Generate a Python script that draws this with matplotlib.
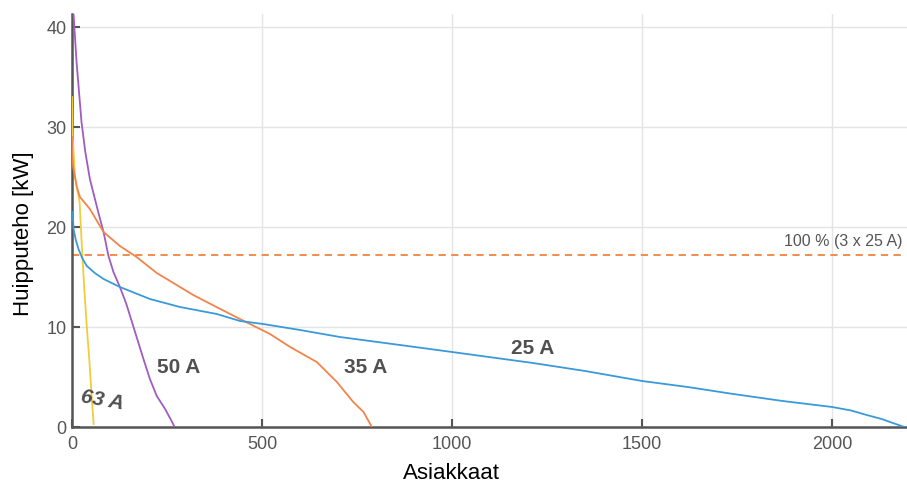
import matplotlib
matplotlib.use("Agg")
import matplotlib.pyplot as plt

plt.rcParams['font.family'] = ['Liberation Sans', 'DejaVu Sans']

# 25 A
x25 = [0, 2, 4, 10, 17, 28, 39, 60, 83, 126, 205, 284, 381, 442, 503, 600, 705, 863, 1000, 1213, 1350, 1500, 1620, 1740, 1870, 2000, 2050, 2091, 2130, 2160, 2190]
y25 = [21.5, 21.5, 19.8, 18.7, 17.8, 16.8, 16.1, 15.4, 14.8, 14.0, 12.8, 12.0, 11.3, 10.6, 10.3, 9.7, 9.0, 8.2, 7.5, 6.4, 5.6, 4.6, 4.0, 3.3, 2.6, 2.0, 1.65, 1.2, 0.8, 0.4, 0.0]
# 35 A
x35 = [0, 1, 3, 8, 12, 21, 47, 83, 126, 170, 223, 258, 319, 380, 442, 521, 574, 644, 697, 740, 767, 789]
y35 = [29.0, 27.0, 26.0, 25.0, 24.1, 23.0, 21.8, 19.5, 18.1, 17.0, 15.4, 14.6, 13.2, 12.0, 10.8, 9.3, 8.0, 6.5, 4.5, 2.5, 1.5, 0.0]
# 50 A
x50 = [0, 4, 12, 25, 35, 47, 69, 83, 96, 109, 126, 143, 161, 188, 205, 223, 245, 262, 270]
y50 = [43.0, 41.3, 36.5, 30.5, 27.5, 24.8, 21.5, 19.5, 17.1, 15.5, 14.0, 12.3, 10.1, 6.8, 4.8, 3.1, 1.8, 0.6, 0.0]
# 63 A
x63 = [0, 1, 2, 8, 15, 20, 26, 32, 39, 46, 52, 57]
y63 = [33.0, 30.0, 28.8, 25.0, 23.5, 22.5, 18.0, 14.0, 10.0, 6.5, 2.8, 0.3]

limit_kw = 17.25
limit_label = "100 % (3 x 25 A)"
series_labels = ["25 A", "35 A", "50 A", "63 A"]
xticks = [0, 500, 1000, 1500, 2000]
yticks = [0, 10, 20, 30, 40]

fig = plt.figure(figsize=(9.07, 4.85), dpi=100)
ax = fig.add_axes([72/907, 1-428/485, 835/907, 413/485])

ax.plot(x63, y63, color='#f2cc3c', lw=1.3, zorder=3)
ax.plot(x50, y50, color='#a05cc0', lw=1.3, zorder=3)
ax.plot(x35, y35, color='#f0844a', lw=1.3, zorder=3)
ax.plot(x25, y25, color='#3a9ad9', lw=1.3, zorder=4)
ax.axhline(limit_kw, color='#f0843e', lw=1.3, ls=(0, (4, 3)), xmax=0.997, zorder=2)

ax.set_xlim(0, 2197)
ax.set_ylim(0, 41.3)
ax.set_xticks(xticks)
ax.set_yticks(yticks)
ax.grid(True, color='#e4e4e4', lw=1.0)
ax.set_axisbelow(True)

for s in ['top', 'right']:
    ax.spines[s].set_visible(False)
for s in ['left', 'bottom']:
    ax.spines[s].set_color('#555555')
    ax.spines[s].set_linewidth(1.8)

ax.tick_params(direction='in', length=6, width=1.5, color='#555555',
               labelsize=13, labelcolor='#555555')
ax.tick_params(axis='x', pad=6)
ax.tick_params(axis='y', pad=4)

ax.set_xlabel("Asiakkaat", fontsize=16, color='black')
ax.xaxis.set_label_coords(0.454, -0.085)
ax.set_ylabel("Huipputeho [kW]", fontsize=16, color='black')
ax.yaxis.set_label_coords(-0.046, 0.47)

lab_color = '#505050'
ax.text(1213, 7.9, series_labels[0], fontsize=15, fontweight='bold', color=lab_color, ha='center', va='center')
ax.text(774, 6.0, series_labels[1], fontsize=15, fontweight='bold', color=lab_color, ha='center', va='center')
ax.text(282, 6.0, series_labels[2], fontsize=15, fontweight='bold', color=lab_color, ha='center', va='center')
ax.text(79, 2.8, series_labels[3], fontsize=15, fontweight='bold', fontstyle='italic', color=lab_color,
        ha='center', va='center', rotation=-10)
ax.text(2184, 18.6, limit_label, fontsize=11.5, color='#555555', ha='right', va='center')

fig.savefig("out.png", dpi=100)
